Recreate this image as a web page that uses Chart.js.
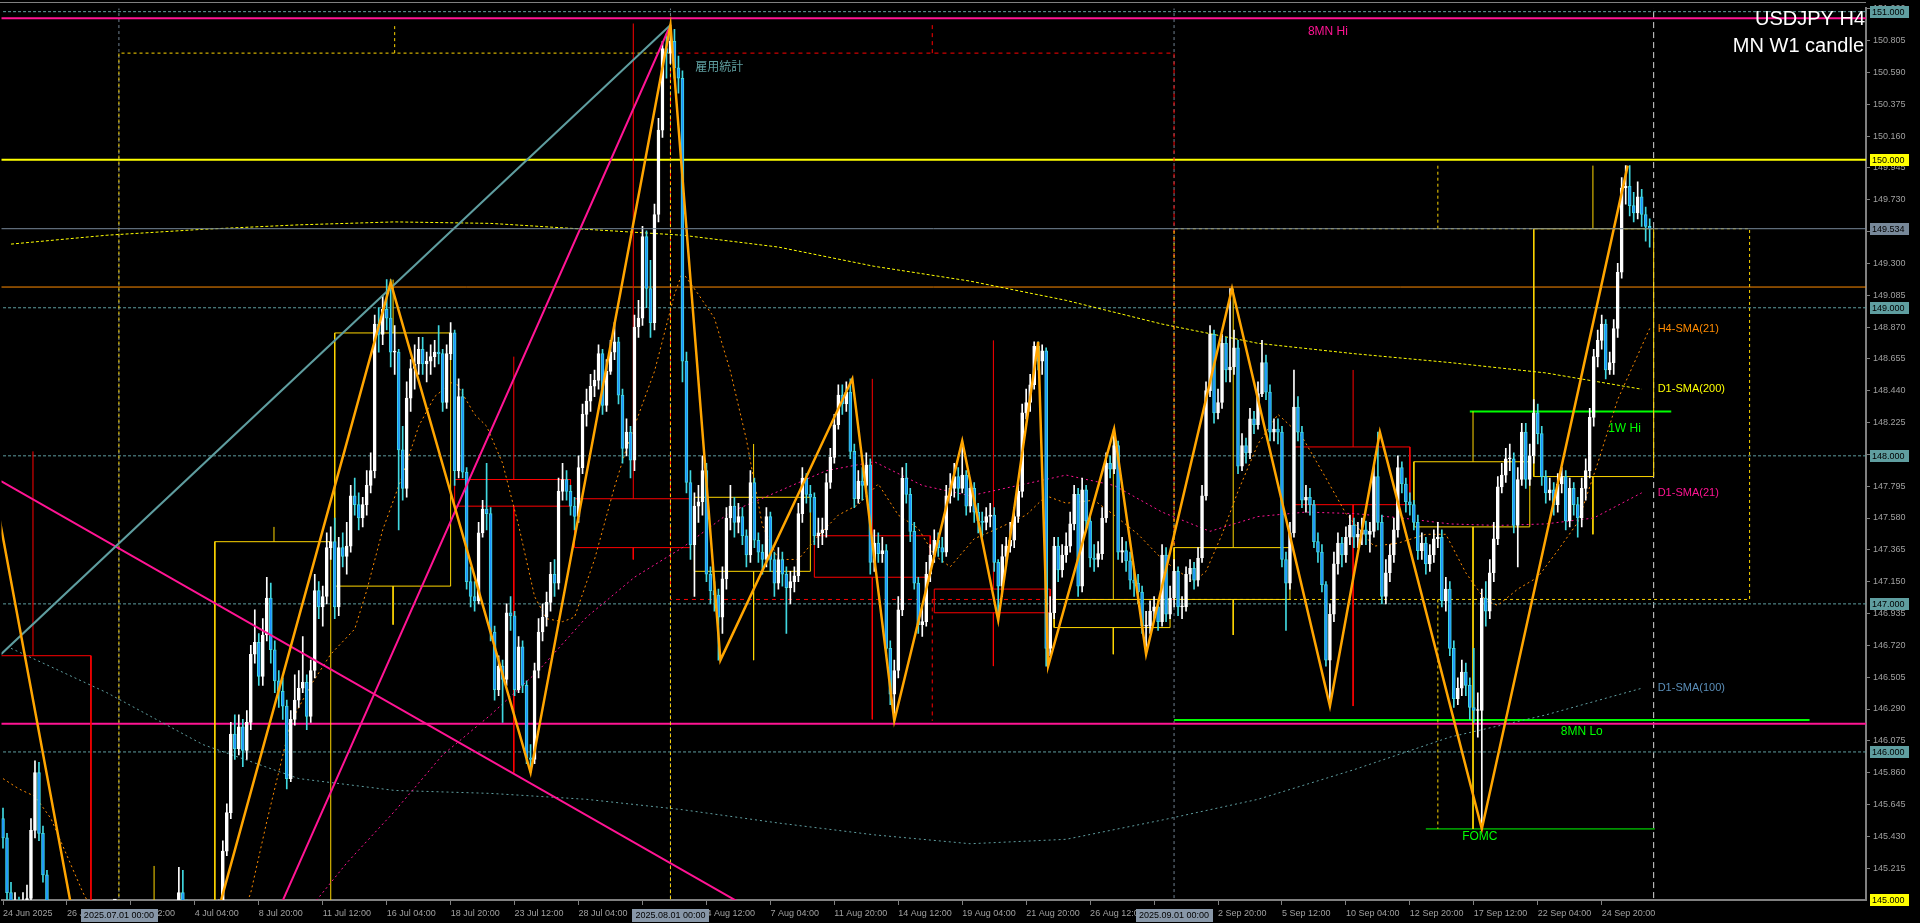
<!DOCTYPE html>
<html>
<head>
<meta charset="utf-8">
<script src="https://cdn.jsdelivr.net/npm/chart.js@4.4.1/dist/chart.umd.min.js"></script>
<style>
  html, body { margin: 0; padding: 0; background: #000; overflow: hidden; }
  #c { display: block; background: #000; }
</style>
</head>
<body>
<canvas id="c" width="1920" height="923"></canvas>
<script>
'use strict';

/* ── Time axis ────────────────────────────────────────────────────────────────
   One H4 bar per index; a label every 16 bars starting at bar 0.            */
const tickLabels = ['24 Jun 2025','26 Jun 20:00','1 Jul 12:00','4 Jul 04:00','8 Jul 20:00','11 Jul 12:00',
  '16 Jul 04:00','18 Jul 20:00','23 Jul 12:00','28 Jul 04:00','30 Jul 20:00','4 Aug 12:00','7 Aug 04:00',
  '11 Aug 20:00','14 Aug 12:00','19 Aug 04:00','21 Aug 20:00','26 Aug 12:00','29 Aug 04:00','2 Sep 20:00',
  '5 Sep 12:00','10 Sep 04:00','12 Sep 20:00','17 Sep 12:00','22 Sep 04:00','24 Sep 20:00'];
const tickEvery = 16;

/* month separators (bar index of the 1st of the month) */
const sepBars   = [29, 167, 293];
const sepLabels = ['2025.07.01 00:00', '2025.08.01 00:00', '2025.09.01 00:00'];
const nowBar    = 413;

/* ── Price axis ─────────────────────────────────────────────────────────── */
const yTicks = [145.215,145.430,145.645,145.860,146.075,146.290,146.505,146.720,146.935,147.150,147.365,
  147.580,147.795,148.010,148.225,148.440,148.655,148.870,149.085,149.300,149.515,149.730,149.945,150.160,
  150.375,150.590,150.805,151.020];

/* ── USDJPY H4 candles (open = previous close) ──────────────────────────── */
const firstOpen = 145.55;
const closes = [
  145.42,145.05,144.95,144.98,144.92,144.96,145.01,145.47,145.86,145.45,
  145.17,144.90,144.70,144.50,144.30,144.40,144.50,144.60,144.70,144.50,
  144.60,144.40,144.60,144.50,144.30,144.00,143.90,144.00,144.00,143.80,
  143.60,143.30,142.90,143.20,143.40,143.60,143.50,143.80,143.90,143.60,
  143.70,143.80,144.00,144.30,145.05,144.95,144.80,144.70,144.60,144.50,
  144.55,144.45,144.50,144.70,144.90,145.33,145.59,146.12,146.02,146.17,
  146.01,146.20,146.66,146.74,146.51,146.79,147.04,146.69,146.48,146.41,
  146.31,145.82,146.22,146.35,146.43,146.47,146.24,146.55,147.09,146.98,
  147.05,147.38,147.42,146.98,147.38,147.32,147.39,147.73,147.67,147.58,
  147.67,147.80,147.90,148.89,148.82,148.99,148.93,148.70,148.70,148.04,
  147.78,148.39,148.59,148.62,148.72,148.62,148.64,148.67,148.70,148.69,
  148.36,148.69,148.83,147.90,148.40,147.89,147.15,147.05,147.02,147.48,
  147.64,147.61,146.81,146.42,146.58,146.49,146.94,146.92,146.42,146.71,
  146.45,145.96,145.95,146.55,146.81,146.91,147.01,147.20,147.14,147.76,
  147.84,147.76,147.66,147.59,147.92,148.28,148.37,148.47,148.51,148.69,
  148.34,148.57,148.70,148.77,148.41,148.05,148.16,147.97,148.87,148.93,
  149.48,149.13,148.90,149.63,150.20,150.75,150.72,150.80,150.62,150.55,
  148.64,147.82,147.40,147.66,147.69,147.90,147.20,147.09,147.06,146.91,
  147.17,147.58,147.66,147.55,147.59,147.46,147.33,147.82,147.43,147.35,
  147.30,147.59,147.30,147.14,147.30,147.20,147.11,147.15,147.19,147.61,
  147.85,147.74,147.72,147.46,147.48,147.50,147.82,147.99,148.21,148.41,
  148.35,148.43,148.03,147.71,147.83,147.80,147.94,147.28,147.41,147.34,
  147.36,146.70,146.39,146.55,146.96,147.85,147.74,147.49,147.14,146.86,
  146.88,147.20,147.33,147.43,147.38,147.35,147.73,147.78,147.86,147.78,
  147.87,147.66,147.78,147.62,147.56,147.55,147.59,147.60,147.28,147.12,
  147.32,147.39,147.43,147.59,147.76,148.29,148.36,148.48,148.74,148.64,
  148.71,146.70,146.94,147.39,147.23,147.33,147.39,147.54,147.74,147.12,
  147.77,147.56,147.31,147.30,147.34,147.58,147.95,147.91,148.07,147.35,
  147.36,147.29,147.16,147.14,147.08,146.85,146.85,146.95,146.98,146.88,
  147.33,146.93,147.04,147.22,146.98,146.98,147.20,147.24,147.16,147.31,
  147.73,148.44,148.82,148.29,148.36,148.76,148.58,148.60,148.73,147.93,
  148.07,148.02,148.25,148.21,148.42,148.63,148.43,148.16,148.18,148.16,
  147.30,147.14,147.48,148.33,148.16,147.70,147.72,147.67,147.42,147.35,
  147.13,146.62,146.93,147.27,147.41,147.33,147.45,147.53,147.45,147.47,
  147.50,147.47,147.49,147.86,147.55,147.05,147.21,147.33,147.50,147.92,
  147.81,147.69,147.67,147.55,147.36,147.41,147.27,147.33,147.44,147.45,
  147.02,147.10,146.70,146.36,146.43,146.54,146.45,146.30,146.28,146.28,
  147.04,146.95,147.21,147.44,147.79,147.87,147.98,147.98,147.53,147.84,
  148.16,147.84,148.00,148.29,148.15,147.86,147.75,147.77,147.67,147.81,
  147.86,147.56,147.78,147.67,147.58,147.78,147.90,148.26,148.67,148.78,
  148.89,148.58,148.63,148.86,149.24,149.81,149.82,149.69,149.64,149.75,
  149.63,149.55,149.534];
const highs = [
  145.62,145.45,145.12,145.05,145.02,145.05,145.10,145.55,145.94,145.93,
  145.50,145.20,144.95,144.78,144.55,144.50,144.60,144.70,144.80,144.75,
  144.70,144.65,144.70,144.65,144.55,144.35,144.10,144.10,144.10,144.05,
  143.85,143.65,143.35,143.30,143.50,143.70,143.70,143.90,144.05,143.95,
  143.80,143.90,144.10,144.40,145.22,145.20,145.00,144.85,144.75,144.65,
  144.65,144.60,144.60,144.80,145.00,145.40,145.65,146.20,146.25,146.25,
  146.22,146.28,146.72,146.96,146.80,146.90,147.18,147.14,146.75,146.55,
  146.50,146.35,146.28,146.52,146.55,146.78,146.52,146.62,147.20,147.15,
  147.12,147.48,147.52,147.58,147.45,147.48,147.55,147.80,147.85,147.75,
  147.72,147.90,148.02,148.95,149.00,149.08,149.19,149.19,148.88,148.72,
  148.20,148.50,148.65,148.75,148.80,148.80,148.70,148.75,148.78,148.88,
  148.72,148.75,148.90,148.85,148.52,148.45,147.92,147.25,147.15,147.55,
  147.70,147.95,147.65,146.85,146.65,146.62,147.00,147.05,146.95,146.78,
  146.75,146.48,146.05,146.60,146.90,147.00,147.08,147.28,147.30,147.85,
  147.95,147.90,147.80,147.72,148.00,148.35,148.45,148.55,148.58,148.75,
  148.72,148.65,148.78,148.90,148.80,148.45,148.25,148.20,148.95,149.05,
  149.55,149.52,149.32,149.70,150.28,150.80,150.85,150.91,150.88,150.70,
  150.60,148.70,147.90,147.75,147.80,148.00,147.95,147.25,147.15,147.10,
  147.25,147.65,147.80,147.72,147.68,147.65,147.50,147.90,147.85,147.48,
  147.40,147.65,147.62,147.35,147.38,147.35,147.25,147.22,147.25,147.68,
  147.92,147.88,147.80,147.75,147.58,147.58,147.88,148.05,148.28,148.48,
  148.48,148.50,148.52,148.08,147.90,147.92,148.02,147.98,147.50,147.48,
  147.45,147.40,146.75,146.62,147.05,147.92,147.95,147.78,147.55,147.18,
  146.98,147.28,147.40,147.50,147.48,147.45,147.80,147.88,147.95,147.92,
  148.10,147.90,147.85,147.82,147.68,147.62,147.65,147.68,147.65,147.30,
  147.40,147.45,147.55,147.65,147.82,148.35,148.45,148.55,148.77,148.77,
  148.75,148.73,147.05,147.45,147.45,147.40,147.48,147.62,147.80,147.78,
  147.85,147.80,147.60,147.40,147.42,147.65,148.02,148.00,148.18,148.10,
  147.45,147.42,147.35,147.25,147.20,147.12,146.95,147.02,147.05,147.02,
  147.40,147.38,147.12,147.30,147.25,147.05,147.25,147.30,147.28,147.38,
  147.80,148.50,148.88,148.85,148.45,148.82,148.80,149.13,148.85,148.78,
  148.15,148.12,148.32,148.30,148.50,148.78,148.68,148.48,148.25,148.25,
  148.20,147.35,147.55,148.58,148.40,148.20,147.80,147.78,147.70,147.48,
  147.40,147.15,147.00,147.35,147.48,147.45,147.52,147.60,147.58,147.55,
  147.58,147.56,147.55,147.95,148.16,147.60,147.30,147.40,147.58,148.00,
  147.96,147.85,147.75,147.70,147.60,147.48,147.45,147.40,147.50,147.55,
  147.50,147.18,147.15,146.75,146.50,146.62,146.60,146.50,146.70,146.40,
  147.10,147.15,147.30,147.55,147.86,147.95,148.05,148.08,148.02,147.92,
  148.22,148.22,148.08,148.38,148.35,148.20,147.90,147.85,147.82,147.88,
  147.92,147.90,147.85,147.82,147.72,147.85,147.98,148.32,148.72,148.85,
  148.95,148.92,148.70,148.92,149.30,149.88,149.96,149.96,149.78,149.85,
  149.80,149.68,149.60];
const lows = [
  145.35,145.00,144.85,144.88,144.82,144.85,144.90,144.98,145.42,145.40,
  145.12,144.80,144.60,144.40,144.20,144.25,144.35,144.45,144.55,144.40,
  144.45,144.30,144.35,144.40,144.20,143.90,143.80,143.85,143.90,143.70,
  143.50,143.20,142.75,142.85,143.10,143.35,143.40,143.45,143.75,143.50,
  143.55,143.60,143.75,143.95,144.25,144.80,144.70,144.60,144.50,144.40,
  144.45,144.40,144.40,144.40,144.65,144.85,145.30,145.55,145.95,145.98,
  145.90,145.95,146.15,146.60,146.45,146.45,146.75,146.60,146.40,146.30,
  146.22,145.75,145.80,146.18,146.30,146.40,146.15,146.20,146.50,146.90,
  146.85,147.00,147.30,146.90,146.92,147.25,147.20,147.35,147.60,147.50,
  147.52,147.60,147.75,147.85,148.70,148.75,148.85,148.60,148.55,147.50,
  147.70,147.72,148.30,148.45,148.55,148.55,148.50,148.55,148.60,148.62,
  148.30,148.32,148.65,147.80,147.85,147.85,147.10,146.98,146.95,147.00,
  147.45,147.50,146.75,146.35,146.38,146.20,146.45,146.82,146.38,146.40,
  146.40,145.92,145.86,145.92,146.50,146.75,146.85,146.95,147.05,147.10,
  147.70,147.70,147.60,147.50,147.55,147.88,148.20,148.30,148.40,148.45,
  148.28,148.30,148.55,148.65,148.35,147.95,148.00,147.85,147.90,148.80,
  148.88,149.00,148.80,148.85,149.58,150.15,150.55,150.65,150.55,150.45,
  148.50,147.75,147.30,147.05,147.55,147.60,147.15,147.00,146.95,146.62,
  146.80,147.10,147.50,147.45,147.48,147.40,147.25,147.28,147.38,147.28,
  147.20,147.25,147.22,147.05,147.10,147.12,146.80,147.00,147.08,147.15,
  147.55,147.68,147.62,147.40,147.38,147.40,147.45,147.78,147.95,148.18,
  148.28,148.30,147.98,147.65,147.68,147.70,147.75,147.20,147.22,147.28,
  147.28,146.65,146.32,146.21,146.50,146.92,147.68,147.42,147.10,146.80,
  146.78,146.85,147.15,147.28,147.32,147.28,147.32,147.68,147.72,147.70,
  147.75,147.60,147.62,147.55,147.48,147.45,147.50,147.52,147.22,146.89,
  147.05,147.25,147.35,147.38,147.55,147.72,148.25,148.30,148.45,148.58,
  148.55,146.58,146.65,146.90,147.15,147.18,147.28,147.35,147.50,147.05,
  147.08,147.50,147.25,147.22,147.25,147.30,147.55,147.85,147.88,147.30,
  147.28,147.22,147.10,147.05,147.00,146.80,146.66,146.80,146.88,146.82,
  146.85,146.88,146.90,146.98,146.92,146.90,146.95,147.15,147.10,147.12,
  147.28,147.70,148.40,148.22,148.25,148.32,148.50,148.50,148.55,147.88,
  147.90,147.95,147.98,148.15,148.18,148.40,148.38,148.10,148.10,148.08,
  147.25,146.82,147.10,147.45,148.10,147.65,147.62,147.60,147.38,147.28,
  147.08,146.58,146.31,146.88,147.20,147.25,147.28,147.40,147.38,147.38,
  147.40,147.40,147.35,147.45,147.50,147.00,147.00,147.15,147.28,147.45,
  147.75,147.62,147.60,147.50,147.30,147.30,147.20,147.22,147.28,147.38,
  146.98,146.95,146.65,146.30,146.32,146.38,146.38,146.22,146.20,146.10,
  145.48,146.85,146.90,147.15,147.40,147.75,147.82,147.90,147.48,147.25,
  147.80,147.78,147.80,147.95,148.08,147.80,147.68,147.70,147.60,147.62,
  147.75,147.50,147.52,147.60,147.45,147.52,147.70,147.85,148.20,148.60,
  148.72,148.52,148.55,148.55,148.80,149.20,149.70,149.62,149.58,149.60,
  149.55,149.45,149.41];

/* ── Indicators ──────────────────────────────────────────────────────────── */
// H4-SMA(21), read at these bars
const h4SmaBars = [0,4,8,12,16,20,24,30,36,42,48,54,58,62,66,72,77,82,88,91,95,100,104,108,113,118,121,125,
  129,133,136,140,143,148,153,156,160,163,168,170,174,178,182,186,190,194,199,204,209,214,219,224,229,233,
  237,243,249,256,261,266,273,278,284,289,293,298,301,305,309,314,319,325,331,336,343,349,356,361,366,371,
  374,379,384,389,394,399,404,412];
const h4SmaVals = [145.82,145.75,145.70,145.55,145.30,145.05,144.85,144.55,144.20,143.95,144.10,144.40,
  144.75,145.05,145.53,146.20,146.45,146.66,146.83,147.09,147.50,147.87,148.20,148.40,148.51,148.28,148.20,
  147.95,147.53,147.05,146.90,146.88,146.91,147.30,147.79,148.05,148.35,148.57,149.09,149.24,149.09,148.93,
  148.57,148.11,147.53,147.30,147.30,147.46,147.60,147.67,147.81,147.60,147.51,147.33,147.25,147.44,147.51,
  147.60,147.73,147.68,147.70,147.60,147.47,147.33,147.24,147.15,147.22,147.47,147.76,148.08,148.28,148.13,
  147.85,147.61,147.39,147.41,147.47,147.47,147.21,147.02,146.99,147.10,147.18,147.36,147.55,147.95,148.38,
  148.86];
// daily SMAs, one value every 2 (SMA21) or 4 (SMA100/200) trading days
const d1Sma21 = [144.30,144.35,144.40,144.40,144.45,144.60,144.85,145.25,145.60,145.98,146.25,146.55,146.91,
  147.18,147.38,147.62,147.76,147.90,147.96,147.80,147.73,147.80,147.87,147.80,147.62,147.49,147.59,147.62,
  147.61,147.58,147.54,147.53,147.54,147.58,147.75];
const d1Sma100 = [146.70,146.40,146.05,145.82,145.74,145.72,145.68,145.61,145.52,145.44,145.38,145.41,145.54,
  145.68,145.88,146.10,146.25,146.43];
const d1Sma200 = [149.43,149.49,149.53,149.56,149.58,149.57,149.53,149.49,149.41,149.28,149.18,149.05,148.89,
  148.76,148.69,148.63,148.56,148.45];

// ZigZag swing points
const zzBars = [-4, 32, 97, 132, 167, 179.5, 212.5, 223, 240, 249, 259, 261.5, 278, 286, 307.5, 332, 344.5, 370, 406.5];
const zzVals = [148.03,142.78,149.17,145.86,150.91,146.62,148.52,146.21,148.10,146.89,148.77,146.58,148.18,
  146.66,149.13,146.31,148.16,145.48,149.96];

// weekly candles (MN W1 candle)
const wkStart = [-7, 23, 53, 83, 113, 143, 173, 203, 233, 263, 293, 323, 353, 383];
const wkEnd   = [22, 52, 82, 112, 142, 172, 202, 232, 262, 292, 322, 352, 382, 413];
const wkMid   = [7.5, 37.8, 67.8, 97.6, 127.8, 157.7, 187.8, 217.5, 247.8, 277.8, 307.8, 337.8, 367.8, 397.8];
const wkOpen  = [146.65,144.45,144.40,147.12,147.84,147.71,147.22,147.46,147.10,146.84,147.03,148.06,147.52,147.86];
const wkClose = [144.60,144.50,147.42,148.83,147.66,147.38,147.72,147.18,146.94,147.03,147.38,147.67,147.96,149.534];
const wkHigh  = [148.03,145.23,147.52,149.19,148.67,150.92,148.08,148.52,148.78,148.18,149.13,148.58,148.30,149.96];
const wkLow   = [144.20,142.68,144.20,146.86,145.86,147.30,146.62,146.22,146.58,146.66,146.79,146.31,145.48,147.47];

// monthly candles
const mnStart = [29, 167, 293];
const mnEnd   = [167, 293, 437];
const mnMid   = [98, 232.5, 359];
const mnOpen  = [144.03, 150.72, 147.03];
const mnClose = [150.72, 147.03, 149.534];
const mnHigh  = [150.91, 150.92, 149.96];
const mnLow   = [142.68, 146.21, 145.48];

// trend lines [bar0, price0, bar1, price1]
const tlTeal     = [-0.5, 146.66, 167, 150.91];
const tlPinkUp   = [32, 142.68, 167, 150.91];
const tlPinkDown = [-0.5, 147.83, 200, 144.74];

// horizontal levels
const roundLevels = [146, 147, 148, 149, 151];
const lvl150   = 150.0;
const mnHiLvl  = 150.955;
const mnLoLvl  = 146.19;
const orangeLvl = 149.14;
const lastPrice = 149.534;
const wkHiLine  = [367, 417.4, 148.30];
const lowLine   = [293, 452, 146.215];
const fomcLine  = [356, 413.3, 145.48];

/* ── Helpers ─────────────────────────────────────────────────────────────── */
const FONT = '"Liberation Sans", Arial, sans-serif';
const opens = closes.map((c, i) => (i === 0 ? firstOpen : closes[i - 1]));

function lineDs(data, color, width, dash, order) {
  return {
    type: 'line', data, borderColor: color, borderWidth: width, borderDash: dash || [],
    pointRadius: 0, pointHoverRadius: 0, fill: false, tension: 0, spanGaps: false, clip: 0, order,
  };
}
const seg = (x0, y0, x1, y1) => [{ x: x0, y: y0 }, { x: x1, y: y1 }, { x: x1, y: null }];
const rect = (x0, x1, y0, y1) => [
  { x: x0, y: y0 }, { x: x1, y: y0 }, { x: x1, y: y1 }, { x: x0, y: y1 }, { x: x0, y: y0 }, { x: x0, y: null }];

function candleBoxes(start, end, mid, o, c, h, l, bull) {
  const pts = [];
  start.forEach((s, i) => {
    if ((c[i] >= o[i]) !== bull) return;
    pts.push(...rect(s, end[i], o[i], c[i]));
    pts.push(...seg(mid[i], Math.max(o[i], c[i]), mid[i], h[i]));
    pts.push(...seg(mid[i], Math.min(o[i], c[i]), mid[i], l[i]));
  });
  return pts;
}

/* ── Datasets ────────────────────────────────────────────────────────────── */
const datasets = [];

// bid line on top of everything
datasets.push(lineDs(seg(-10, lastPrice, 480, lastPrice), '#778899', 1, [], 0));

// zigzag, trend lines
datasets.push(lineDs(zzBars.map((b, i) => ({ x: b, y: zzVals[i] })), '#ffa500', 2.5, [], 1));
datasets.push(lineDs(seg(...tlTeal), '#5f9ea0', 2, [], 2));
datasets.push(lineDs(seg(...tlPinkUp).concat(seg(...tlPinkDown)), '#ff1493', 2, [], 2));

// candles
datasets.push({
  type: 'bar', order: 3, grouped: false, barThickness: 3, minBarLength: 1, borderSkipped: false,
  data: closes.map((c, i) => ({ x: i, y: [opens[i], c] })),
  backgroundColor: ctx => (closes[ctx.dataIndex] >= opens[ctx.dataIndex] ? '#ffffff' : '#1e90ff'),
  borderColor:     ctx => (closes[ctx.dataIndex] >= opens[ctx.dataIndex] ? '#ffffff' : '#40d8e0'),
  borderWidth: 1,
});
datasets.push({
  type: 'bar', order: 4, grouped: false, barThickness: 1, borderSkipped: false,
  data: closes.map((c, i) => ({ x: i, y: [lows[i], highs[i]] })),
  backgroundColor: ctx => (closes[ctx.dataIndex] >= opens[ctx.dataIndex] ? '#ffffff' : '#40d8e0'),
  borderWidth: 0,
});

// moving averages
datasets.push(lineDs(h4SmaBars.map((b, i) => ({ x: b, y: h4SmaVals[i] })), '#ff8c00', 1, [2, 3], 5));
datasets.push(lineDs(d1Sma21.map((v, j) => ({ x: 12 * j + 2, y: v })), '#ff1493', 1, [2, 3], 5));
datasets.push(lineDs(d1Sma100.map((v, j) => ({ x: 24 * j + 2, y: v })), '#5f9ea0', 1, [2, 3], 5));
datasets.push(lineDs(d1Sma200.map((v, j) => ({ x: 24 * j + 2, y: v })), '#ffff00', 1, [3, 2], 5));

// weekly and monthly candle boxes
datasets.push(lineDs(candleBoxes(wkStart, wkEnd, wkMid, wkOpen, wkClose, wkHigh, wkLow, true), '#ffd700', 1, [], 6));
datasets.push(lineDs(candleBoxes(wkStart, wkEnd, wkMid, wkOpen, wkClose, wkHigh, wkLow, false), '#ff0000', 1, [], 6));
datasets.push(lineDs(candleBoxes(mnStart, mnEnd, mnMid, mnOpen, mnClose, mnHigh, mnLow, true), '#ffd700', 1, [3, 3], 6));
datasets.push(lineDs(candleBoxes(mnStart, mnEnd, mnMid, mnOpen, mnClose, mnHigh, mnLow, false), '#ff0000', 1, [4, 4], 6));

// levels
const X0 = -10, X1 = 480;
datasets.push(lineDs(roundLevels.flatMap(p => seg(X0, p, X1, p)), '#5f9ea0', 1, [3, 2], 7));
datasets.push(lineDs(seg(X0, lvl150, X1, lvl150), '#ffff00', 2, [], 7));
datasets.push(lineDs(seg(X0, mnHiLvl, X1, mnHiLvl).concat(seg(X0, mnLoLvl, X1, mnLoLvl)), '#ff1493', 2, [], 7));
datasets.push(lineDs(seg(X0, orangeLvl, X1, orangeLvl), '#ff8c00', 1, [], 7));
datasets.push(lineDs(seg(wkHiLine[0], wkHiLine[2], wkHiLine[1], wkHiLine[2])
  .concat(seg(lowLine[0], lowLine[2], lowLine[1], lowLine[2])), '#00ff00', 2, [], 7));
datasets.push(lineDs(seg(fomcLine[0], fomcLine[2], fomcLine[1], fomcLine[2]), '#00ff00', 1, [], 7));

// separators and the current bar
datasets.push(lineDs(sepBars.flatMap(b => seg(b, 144, b, 152)), '#708090', 1, [3, 3], 8));
datasets.push(lineDs(seg(nowBar, 144, nowBar, 152), '#d8d8d8', 1, [6, 4], 8));

/* ── Overlay: axis price boxes, date boxes, texts ───────────────────────── */
const overlay = {
  id: 'overlay',
  afterDraw(chart) {
    const { ctx, chartArea: a, scales: { x, y } } = chart;
    const px = b => x.getPixelForValue(b);
    const py = p => y.getPixelForValue(p);
    const text = (s, tx, ty, color, font, align) => {
      ctx.font = font; ctx.fillStyle = color; ctx.textAlign = align || 'left'; ctx.textBaseline = 'middle';
      ctx.fillText(s, tx, ty);
    };
    ctx.save();

    // top frame line
    ctx.fillStyle = '#808080';
    ctx.fillRect(0, 2, a.right, 1);

    // price boxes on the right axis
    const boxes = [
      [151.0, '#5f9ea0'], [150.0, '#ffff00'], [lastPrice, '#778899'], [149.0, '#5f9ea0'],
      [148.0, '#5f9ea0'], [147.0, '#5f9ea0'], [146.0, '#5f9ea0'], [145.0, '#ffff00'],
    ];
    boxes.forEach(([p, col]) => {
      const yy = Math.round(py(p));
      ctx.fillStyle = col;
      ctx.fillRect(a.right + 4, yy - 6, 39, 12);
      text(p.toFixed(3), a.right + 6, yy + 0.5, '#000000', '9px ' + FONT);
    });

    // month separator labels on the time axis
    sepBars.forEach((b, i) => {
      const cx = px(b);
      ctx.fillStyle = '#8897a8';
      ctx.fillRect(Math.round(cx - 38), a.bottom + 9, 77, 13);
      text(sepLabels[i], cx, a.bottom + 15.5, '#000000', '9px ' + FONT, 'center');
    });

    // chart title
    ctx.font = '20px ' + FONT; ctx.fillStyle = '#ffffff'; ctx.textAlign = 'right'; ctx.textBaseline = 'alphabetic';
    ctx.fillText('USDJPY H4', a.right - 1, 25);
    ctx.fillText('MN W1 candle', a.right - 2, 52);

    // object labels
    text('8MN Hi', px(326.5), py(mnHiLvl) + 13, '#ff1493', '12px ' + FONT);
    text('雇用統計', px(173.2), py(150.63), '#5f9ea0', '12px "Noto Sans CJK JP", sans-serif');
    text('1W Hi', px(405.7), py(wkHiLine[2]) + 17, '#00ff00', '12px ' + FONT, 'center');
    text('8MN Lo', px(395), py(mnLoLvl) + 8, '#00ff00', '12px ' + FONT, 'center');
    text('FOMC', px(369.5), py(fomcLine[2]) + 8, '#00ff00', '12px ' + FONT, 'center');

    // indicator labels at the right end
    const lx = px(414);
    text('H4-SMA(21)',  lx, py(h4SmaVals[h4SmaVals.length - 1]), '#ff8c00', '11px ' + FONT);
    text('D1-SMA(200)', lx, py(d1Sma200[d1Sma200.length - 1]),  '#ffff00', '11px ' + FONT);
    text('D1-SMA(21)',  lx, py(d1Sma21[d1Sma21.length - 1]),    '#ff1493', '11px ' + FONT);
    text('D1-SMA(100)', lx, py(d1Sma100[d1Sma100.length - 1]),  '#5b8fb9', '11px ' + FONT);

    ctx.restore();
  },
};

/* ── Chart ───────────────────────────────────────────────────────────────── */
Chart.defaults.font.family = FONT;
new Chart(document.getElementById('c').getContext('2d'), {
  type: 'bar',
  data: { datasets },
  plugins: [overlay],
  options: {
    responsive: false,
    animation: false,
    devicePixelRatio: 1,
    events: [],
    layout: { padding: { top: 4, left: 0, right: 0, bottom: 0 } },
    plugins: { legend: { display: false }, tooltip: { enabled: false } },
    scales: {
      x: {
        type: 'linear', position: 'bottom', offset: false,
        min: -0.375, max: -0.375 + 1866 / 4,
        afterFit: s => { s.height = 23; },
        afterBuildTicks: s => { s.ticks = tickLabels.map((_, i) => ({ value: i * tickEvery })); },
        grid: { display: true, drawOnChartArea: false, drawTicks: true, tickLength: 5, tickColor: '#808080', offset: false },
        border: { display: true, color: '#808080', width: 2 },
        ticks: {
          autoSkip: false, maxRotation: 0, align: 'start', padding: 3,
          color: '#a0a0a0', font: { size: 9, family: FONT },
          callback: (v, i) => tickLabels[i],
        },
      },
      y: {
        type: 'linear', position: 'right',
        min: 145.0, max: 151.022,
        afterFit: s => { s.width = 54; },
        afterBuildTicks: s => { s.ticks = yTicks.map(v => ({ value: v })); },
        grid: { display: true, drawOnChartArea: false, drawTicks: true, tickLength: 4, tickColor: '#808080' },
        border: { display: true, color: '#808080', width: 2 },
        ticks: {
          autoSkip: false, padding: 3,
          color: '#a0a0a0', font: { size: 9, family: FONT },
          callback: v => Number(v).toFixed(3),
        },
      },
    },
  },
});
</script>
</body>
</html>
